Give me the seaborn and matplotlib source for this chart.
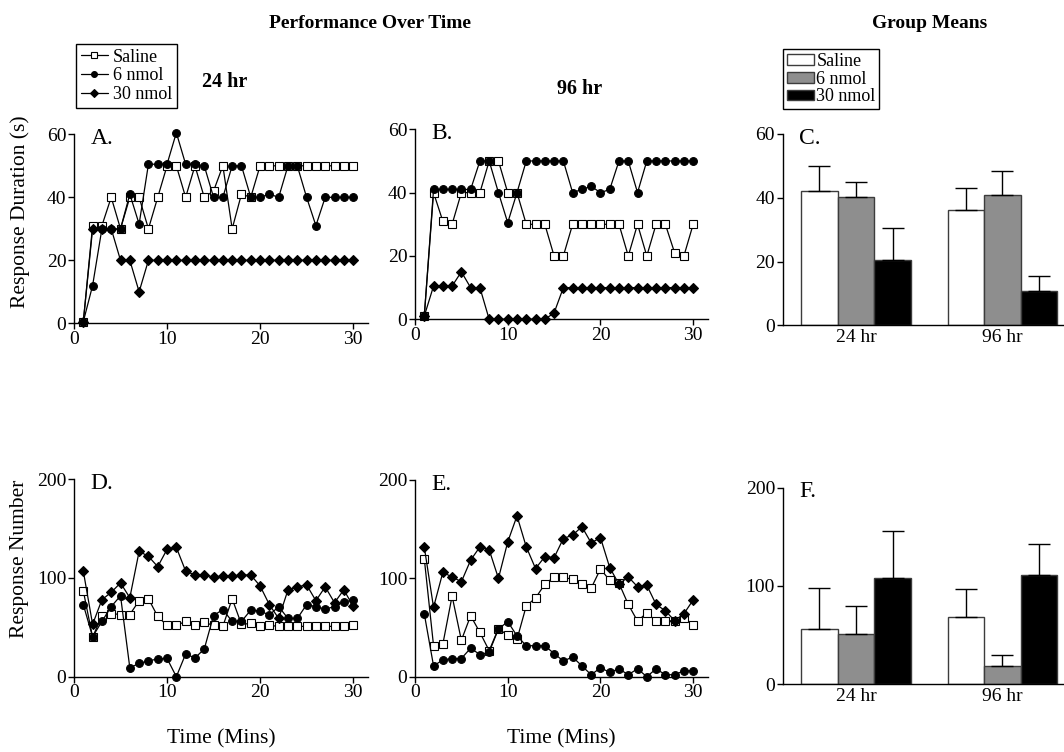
import numpy as np
import pandas as pd
import seaborn as sns
import matplotlib.pyplot as plt
from matplotlib.lines import Line2D
from matplotlib.patches import Patch

groups = ["Saline", "6 nmol", "30 nmol"]
minutes = list(range(1, 31))
times = ["24 hr", "96 hr"]

# Response duration (s) per minute, 24 hr (panel A)
dur_24_saline = [0.5, 31, 31, 40, 30, 40, 40, 30, 40, 50, 50, 40, 50, 40, 42,
                 50, 30, 41, 40, 50, 50, 50, 50, 50, 50, 50, 50, 50, 50, 50]
dur_24_6nmol = [0.5, 12, 30, 30, 30, 41, 31.5, 50.5, 50.5, 50.5, 60.5, 50.5, 50.5, 50, 40,
                40, 50, 50, 40, 40, 41, 40, 50, 50, 40, 31, 40, 40, 40, 40]
dur_24_30nmol = [0.5, 30, 30, 30, 20, 20, 10, 20, 20, 20, 20, 20, 20, 20, 20,
                 20, 20, 20, 20, 20, 20, 20, 20, 20, 20, 20, 20, 20, 20, 20]

# Response duration (s) per minute, 96 hr (panel B)
dur_96_saline = [1, 40, 31, 30, 40, 40, 40, 50, 50, 40, 40, 30, 30, 30, 20,
                 20, 30, 30, 30, 30, 30, 30, 20, 30, 20, 30, 30, 21, 20, 30]
dur_96_6nmol = [1, 41, 41, 41, 41, 41, 50, 50, 40, 30.5, 40, 50, 50, 50, 50,
                50, 40, 41, 42, 40, 41, 50, 50, 40, 50, 50, 50, 50, 50, 50]
dur_96_30nmol = [1, 10.5, 10.5, 10.5, 15, 10, 10, 0, 0, 0, 0, 0, 0, 0, 2,
                 10, 10, 10, 10, 10, 10, 10, 10, 10, 10, 10, 10, 10, 10, 10]

# Response number per minute, 24 hr (panel D)
num_24_saline = [87, 40, 62, 64, 63, 63, 77, 79, 61, 52, 52, 56, 52, 55, 52,
                 51, 79, 53, 54, 51, 52, 51, 51, 51, 51, 51, 51, 51, 51, 52]
num_24_6nmol = [73, 40.5, 56, 71, 82, 9, 13.5, 16, 18, 18.5, 0, 23, 19, 28, 62,
                68, 56, 56, 67.5, 66.5, 62.5, 71, 59, 59, 73, 71, 68.5, 71, 76, 77.5]
num_24_30nmol = [107, 53, 78, 85.5, 95, 80, 127, 122, 111.5, 129, 131, 107, 103, 103, 101,
                 102, 102, 103, 103, 92, 73, 59, 88, 91, 93, 77, 91, 75, 88, 71.5]

# Response number per minute, 96 hr (panel E)
num_96_saline = [120, 31.5, 33, 82, 37, 62, 45, 26.5, 49, 42, 38, 72, 80, 94, 101.5,
                 101, 99, 94, 90, 109.5, 98, 95, 73.5, 56.5, 65, 56.5, 56.5, 57, 60, 53]
num_96_6nmol = [64, 11, 17, 18.5, 18.5, 29, 22.5, 25, 48.5, 56, 41.5, 31.5, 31.5, 31.5, 23.5,
                16, 20, 11, 2, 9, 4.5, 8, 2, 8, 0, 8, 2, 2, 6, 6]
num_96_30nmol = [132, 70.5, 106, 101.5, 96.5, 118.5, 132, 129, 100, 137, 163.5, 132, 110, 122, 121,
                 140.5, 144, 152.5, 136, 141.5, 111, 94, 101.5, 91.5, 93, 73.5, 67, 57, 64, 78]

# Group means (+ SEM), order: Saline, 6 nmol, 30 nmol
dur_mean_24 = [42.0, 40.3, 20.5]
dur_sem_24 = [8.0, 4.5, 10.1]
dur_mean_96 = [36.2, 41.0, 10.9]
dur_sem_96 = [7.0, 7.4, 4.7]
num_mean_24 = [56.3, 50.8, 107.8]
num_sem_24 = [42.0, 29.2, 48.2]
num_mean_96 = [68.8, 19.0, 110.8]
num_sem_96 = [28.2, 10.8, 32.2]

sns.set_theme(style="ticks")
plt.rcParams["font.family"] = ["Liberation Serif", "DejaVu Serif"]
plt.rcParams["axes.linewidth"] = 1.0
plt.rcParams["text.color"] = "black"
plt.rcParams["axes.labelcolor"] = "black"

W, H = 1064, 752
fig = plt.figure(figsize=(W / 100, H / 100), dpi=100)


def add_axes(left, right, top, bottom):
    return fig.add_axes([left / W, 1 - bottom / H, (right - left) / W, (bottom - top) / H])


ax_a = add_axes(74, 368, 134.3, 323.3)
ax_b = add_axes(415, 708, 129.3, 319.3)
ax_c = add_axes(782.7, 1064, 134, 325.3)
ax_d = add_axes(74, 368, 479.3, 676.7)
ax_e = add_axes(415, 708, 480, 676.7)
ax_f = add_axes(782.7, 1064, 487.7, 684.3)

markers = {"Saline": "s", "6 nmol": "o", "30 nmol": "D"}
msize = {"s": 5.2, "o": 5.6, "D": 5.0}
mface = {"s": "white", "o": "black", "D": "black"}
bar_colors = {"Saline": "white", "6 nmol": "#8e8e8e", "30 nmol": "black"}


def style_axis(ax, letter):
    sns.despine(ax=ax)
    for sp in ["left", "bottom"]:
        ax.spines[sp].set_color("black")
    ax.tick_params(length=4, width=1, pad=1.5, labelsize=14, color="black", labelcolor="black")
    ax.set_xlabel("")
    ax.set_ylabel("")
    ax.annotate(letter, xy=(0, 1), xycoords="axes fraction", xytext=(12, -3),
                textcoords="offset points", ha="left", va="center", fontsize=17)


def time_panel(ax, series, ymax, step, letter):
    rows = []
    for g, vals in zip(groups, series):
        for m, v in zip(minutes, vals):
            rows.append((m, v, g))
    df = pd.DataFrame(rows, columns=["minute", "value", "group"])
    sns.lineplot(data=df, x="minute", y="value", hue="group", style="group",
                 hue_order=groups, style_order=groups,
                 palette={g: "black" for g in groups}, markers=markers, dashes=False,
                 errorbar=None, legend=False, linewidth=0.9,
                 markeredgecolor="black", markeredgewidth=0.8, ax=ax)
    for line in ax.lines:
        mk = line.get_marker()
        line.set_markerfacecolor(mface[mk])
        line.set_markersize(msize[mk])
        line.set_clip_on(False)
    ax.set_xlim(0, 31.6)
    ax.set_ylim(0, ymax)
    ax.set_xticks([0, 10, 20, 30])
    ax.set_yticks(np.arange(0, ymax + 1, step))
    style_axis(ax, letter)


def bar_panel(ax, mean_24, sem_24, mean_96, sem_96, ymax, step, letter):
    df = pd.DataFrame({
        "time": [times[0]] * 3 + [times[1]] * 3,
        "group": groups * 2,
        "value": mean_24 + mean_96,
        "sem": sem_24 + sem_96,
    })
    sns.barplot(data=df, x="time", y="value", hue="group", order=times, hue_order=groups,
                palette=bar_colors, saturation=1, width=0.75, edgecolor="#3c3c3c",
                linewidth=1, errorbar=None, legend=False, ax=ax)
    for cont, g in zip(ax.containers, groups):
        for bar, t in zip(cont, times):
            err = df.loc[(df["group"] == g) & (df["time"] == t), "sem"].iloc[0]
            x = bar.get_x() + bar.get_width() / 2
            ax.errorbar(x, bar.get_height(), yerr=[[0], [err]], fmt="none",
                        ecolor="black", elinewidth=1, capsize=7.8, capthick=1, zorder=1)
    ax.set_xlim(-0.5, 1.42)
    ax.set_ylim(0, ymax)
    ax.set_yticks(np.arange(0, ymax + 1, step))
    style_axis(ax, letter)
    ax.tick_params(axis="x", length=0, pad=3)


time_panel(ax_a, [dur_24_saline, dur_24_6nmol, dur_24_30nmol], 60, 20, "A.")
time_panel(ax_b, [dur_96_saline, dur_96_6nmol, dur_96_30nmol], 60, 20, "B.")
time_panel(ax_d, [num_24_saline, num_24_6nmol, num_24_30nmol], 200, 100, "D.")
time_panel(ax_e, [num_96_saline, num_96_6nmol, num_96_30nmol], 200, 100, "E.")
bar_panel(ax_c, dur_mean_24, dur_sem_24, dur_mean_96, dur_sem_96, 60, 20, "C.")
bar_panel(ax_f, num_mean_24, num_sem_24, num_mean_96, num_sem_96, 200, 100, "F.")

for ax in (ax_d, ax_e):
    ax.set_xlabel("Time (Mins)", fontsize=15.5, labelpad=20, color="black")

fig.text(20 / W, 1 - 212 / H, "Response Duration (s)", rotation=90, ha="center",
         va="center", fontsize=15.5)
fig.text(20 / W, 1 - 559 / H, "Response Number", rotation=90, ha="center",
         va="center", fontsize=15.5)
fig.text(370 / W, 1 - 24 / H, "Performance Over Time", ha="center", va="center",
         fontsize=14, fontweight="bold")
fig.text(930 / W, 1 - 23 / H, "Group Means", ha="center", va="center",
         fontsize=14, fontweight="bold")
fig.text(225 / W, 1 - 82 / H, "24 hr", ha="center", va="center", fontsize=14.5,
         fontweight="bold")
fig.text(580 / W, 1 - 89 / H, "96 hr", ha="center", va="center", fontsize=14.5,
         fontweight="bold")

line_handles = [Line2D([0], [0], color="black", lw=0.9, marker=markers[g],
                       ms=msize[markers[g]] * 0.75, mfc=mface[markers[g]],
                       mec="black", mew=0.8) for g in groups]
leg1 = fig.legend(handles=line_handles, labels=groups, loc="upper left",
                  bbox_to_anchor=(76 / W, 1 - 44 / H), fontsize=13, frameon=True,
                  fancybox=False, edgecolor="black", framealpha=1, handlelength=1.5,
                  handletextpad=0.3, borderpad=0.25, labelspacing=0.1, borderaxespad=0)
leg1.get_frame().set_linewidth(1)

bar_handles = [Patch(facecolor=bar_colors[g], edgecolor="#3c3c3c", linewidth=1)
               for g in groups]
leg2 = fig.legend(handles=bar_handles, labels=groups, loc="upper left",
                  bbox_to_anchor=(783 / W, 1 - 49 / H), fontsize=13, frameon=True,
                  fancybox=False, edgecolor="black", framealpha=1, handlelength=1.5,
                  handleheight=0.55, handletextpad=0.15, borderpad=0.2,
                  labelspacing=0.05, borderaxespad=0)
leg2.get_frame().set_linewidth(1)

fig.savefig("out.png", dpi=100)
